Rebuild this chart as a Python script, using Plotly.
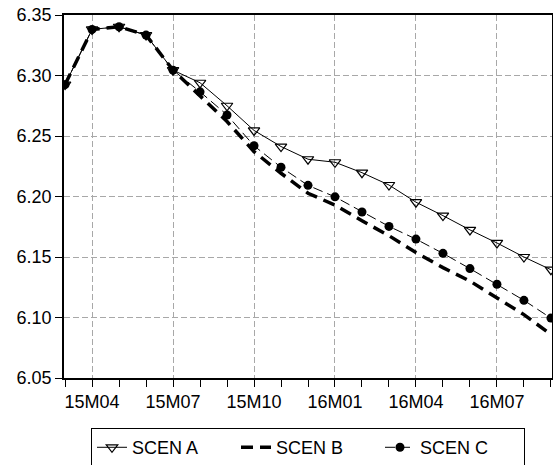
import plotly.graph_objects as go

months = ["15M03", "15M04", "15M05", "15M06", "15M07", "15M08", "15M09", "15M10",
          "15M11", "15M12", "16M01", "16M02", "16M03", "16M04", "16M05", "16M06",
          "16M07", "16M08", "16M09"]
tick_labels = ["15M04", "15M07", "15M10", "16M01", "16M04", "16M07"]

scen_a = [6.2925, 6.3381, 6.3403, 6.3334, 6.3044, 6.2940, 6.2750, 6.2546, 6.2413,
          6.2308, 6.2283, 6.2197, 6.2095, 6.1953, 6.1842, 6.1724, 6.1616, 6.1500, 6.1395]
scen_b = [6.2925, 6.3381, 6.3403, 6.3334, 6.3044, 6.2834, 6.2620, 6.2371, 6.2192,
          6.2027, 6.1929, 6.1800, 6.1676, 6.1537, 6.1412, 6.1301, 6.1162, 6.1024, 6.0860]
scen_c = [6.2925, 6.3381, 6.3403, 6.3334, 6.3044, 6.2865, 6.2674, 6.2419, 6.2242,
          6.2092, 6.1997, 6.1872, 6.1753, 6.1648, 6.1530, 6.1404, 6.1275, 6.1142, 6.0995]

x = list(range(len(months)))
tickvals = [months.index(m) for m in tick_labels]

FONT = "Liberation Sans, Arial, sans-serif"

fig = go.Figure()
fig.add_trace(go.Scatter(
    x=x, y=scen_a, name="SCEN A", mode="lines+markers",
    line=dict(color="black", width=1),
    marker=dict(symbol="triangle-down-open", size=10, color="black", line=dict(width=1.2)),
))
fig.add_trace(go.Scatter(
    x=x, y=scen_b, name="SCEN B", mode="lines",
    line=dict(color="black", width=3.5, dash="12px,7px"),
))
fig.add_trace(go.Scatter(
    x=x, y=scen_c, name="SCEN C", mode="lines+markers",
    line=dict(color="black", width=1, dash="10px,5px"),
    marker=dict(symbol="circle", size=9, color="black"),
))

fig.update_layout(
    width=553, height=465,
    margin=dict(l=64, r=1, t=15, b=87, autoexpand=False),
    paper_bgcolor="white", plot_bgcolor="white",
    font=dict(family=FONT, size=18, color="black"),
    showlegend=True,
    legend=dict(
        orientation="h", x=0.5, xanchor="center", y=-0.138, yanchor="top",
        bordercolor="black", borderwidth=1, font=dict(size=18),
        entrywidth=99, entrywidthmode="pixels", tracegroupgap=0,
    ),
)
fig.update_xaxes(
    range=[-0.04, 18.04], tickmode="array", tickvals=tickvals, ticktext=tick_labels,
    showgrid=True, gridcolor="#a8a8a8", griddash="6px,3px", gridwidth=1,
    ticks="outside", ticklen=7, tickcolor="black", automargin=False,
    ticklabeloverflow="allow",
    minor=dict(dtick=1, tick0=0, ticks="outside", ticklen=7, tickcolor="black", showgrid=False),
    showline=True, linecolor="black", linewidth=1.5, mirror=True, zeroline=False,
)
fig.update_yaxes(
    range=[6.05, 6.35], tickmode="array",
    tickvals=[6.05, 6.10, 6.15, 6.20, 6.25, 6.30, 6.35],
    ticktext=["6.05", "6.10", "6.15", "6.20", "6.25", "6.30", "6.35"],
    showgrid=True, gridcolor="#a8a8a8", griddash="6px,3px", gridwidth=1,
    ticks="outside", ticklen=7, tickcolor="black", automargin=False,
    ticklabeloverflow="allow",
    showline=True, linecolor="black", linewidth=1.5, mirror=True, zeroline=False,
)

# remove the browser's default 8px body margin so the figure sits at the page origin
fig.write_html("out.html", config={"displayModeBar": False},
               post_script="document.body.style.margin='0';")
